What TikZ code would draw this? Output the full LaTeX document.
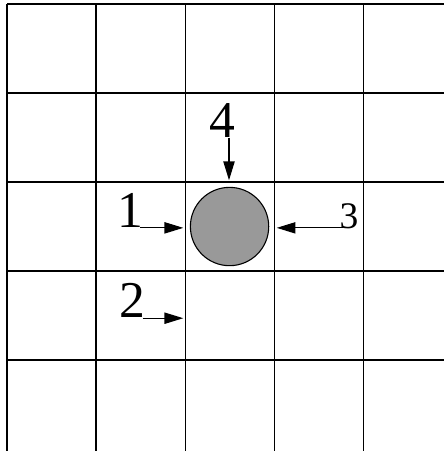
\documentclass[tikz,border=0pt]{standalone}
\usepackage{fontspec}
\setmainfont{Liberation Serif}
\usetikzlibrary{arrows.meta}

\begin{document}
\begin{tikzpicture}[line width=0.35pt,
  bigdigit/.style={inner sep=0pt, font=\fontsize{16.5}{18}\selectfont},
  smalldigit/.style={inner sep=0pt, font=\fontsize{12}{14}\selectfont},
  pointer/.style={-{Triangle[length=6pt,width=3.6pt]}},
  sidepointer/.style={pointer, shorten <=-0.04cm}]

  \useasboundingbox (-0.079,-5.022) rectangle (4.91,0.045);

  % ====== grid lines ======
  \draw (0,0) -- (4.91,0);
  \draw (0,-1) -- (4.91,-1);
  \draw (0,-2) -- (4.91,-2);
  \draw (0,-3) -- (4.91,-3);
  \draw (0,-4) -- (4.91,-4);
  \draw (0,0) -- (0,-5.022);
  \draw (1,0) -- (1,-5.022);
  \draw (2,0) -- (2,-5.022);
  \draw (3,0) -- (3,-5.022);
  \draw (4,0) -- (4,-5.022);

  % ====== ball ======
  \node[circle, draw, fill={rgb,255:red,153;green,153;blue,153},
        minimum size=0.88cm, inner sep=0pt] (ball) at (2.5,-2.5) {};

  % ====== labels and targets ======
  \node[bigdigit, anchor=base east] (one) at (1.535,-2.51) {1};
  \node[bigdigit, anchor=base east] (two) at (1.565,-3.52) {2};
  \node[smalldigit, anchor=base west] (three) at (3.73,-2.52) {3};
  \node[bigdigit, anchor=base east] (four) at (2.57,-1.5) {4};

  \coordinate (t1) at (1.98,-2.515);
  \coordinate (t2) at (1.98,-3.53);
  \coordinate (t3) at (3.03,-2.515);
  \coordinate (t4) at (2.494,-1.98);

  % ====== arrows ======
  \draw[sidepointer] (one.base east |- t1) -- (t1);
  \draw[sidepointer] (two.base east |- t2) -- (t2);
  \draw[sidepointer] (three.base west |- t3) -- (t3);
  \draw[pointer] (t4 |- four.base) -- (t4);

\end{tikzpicture}
\end{document}
